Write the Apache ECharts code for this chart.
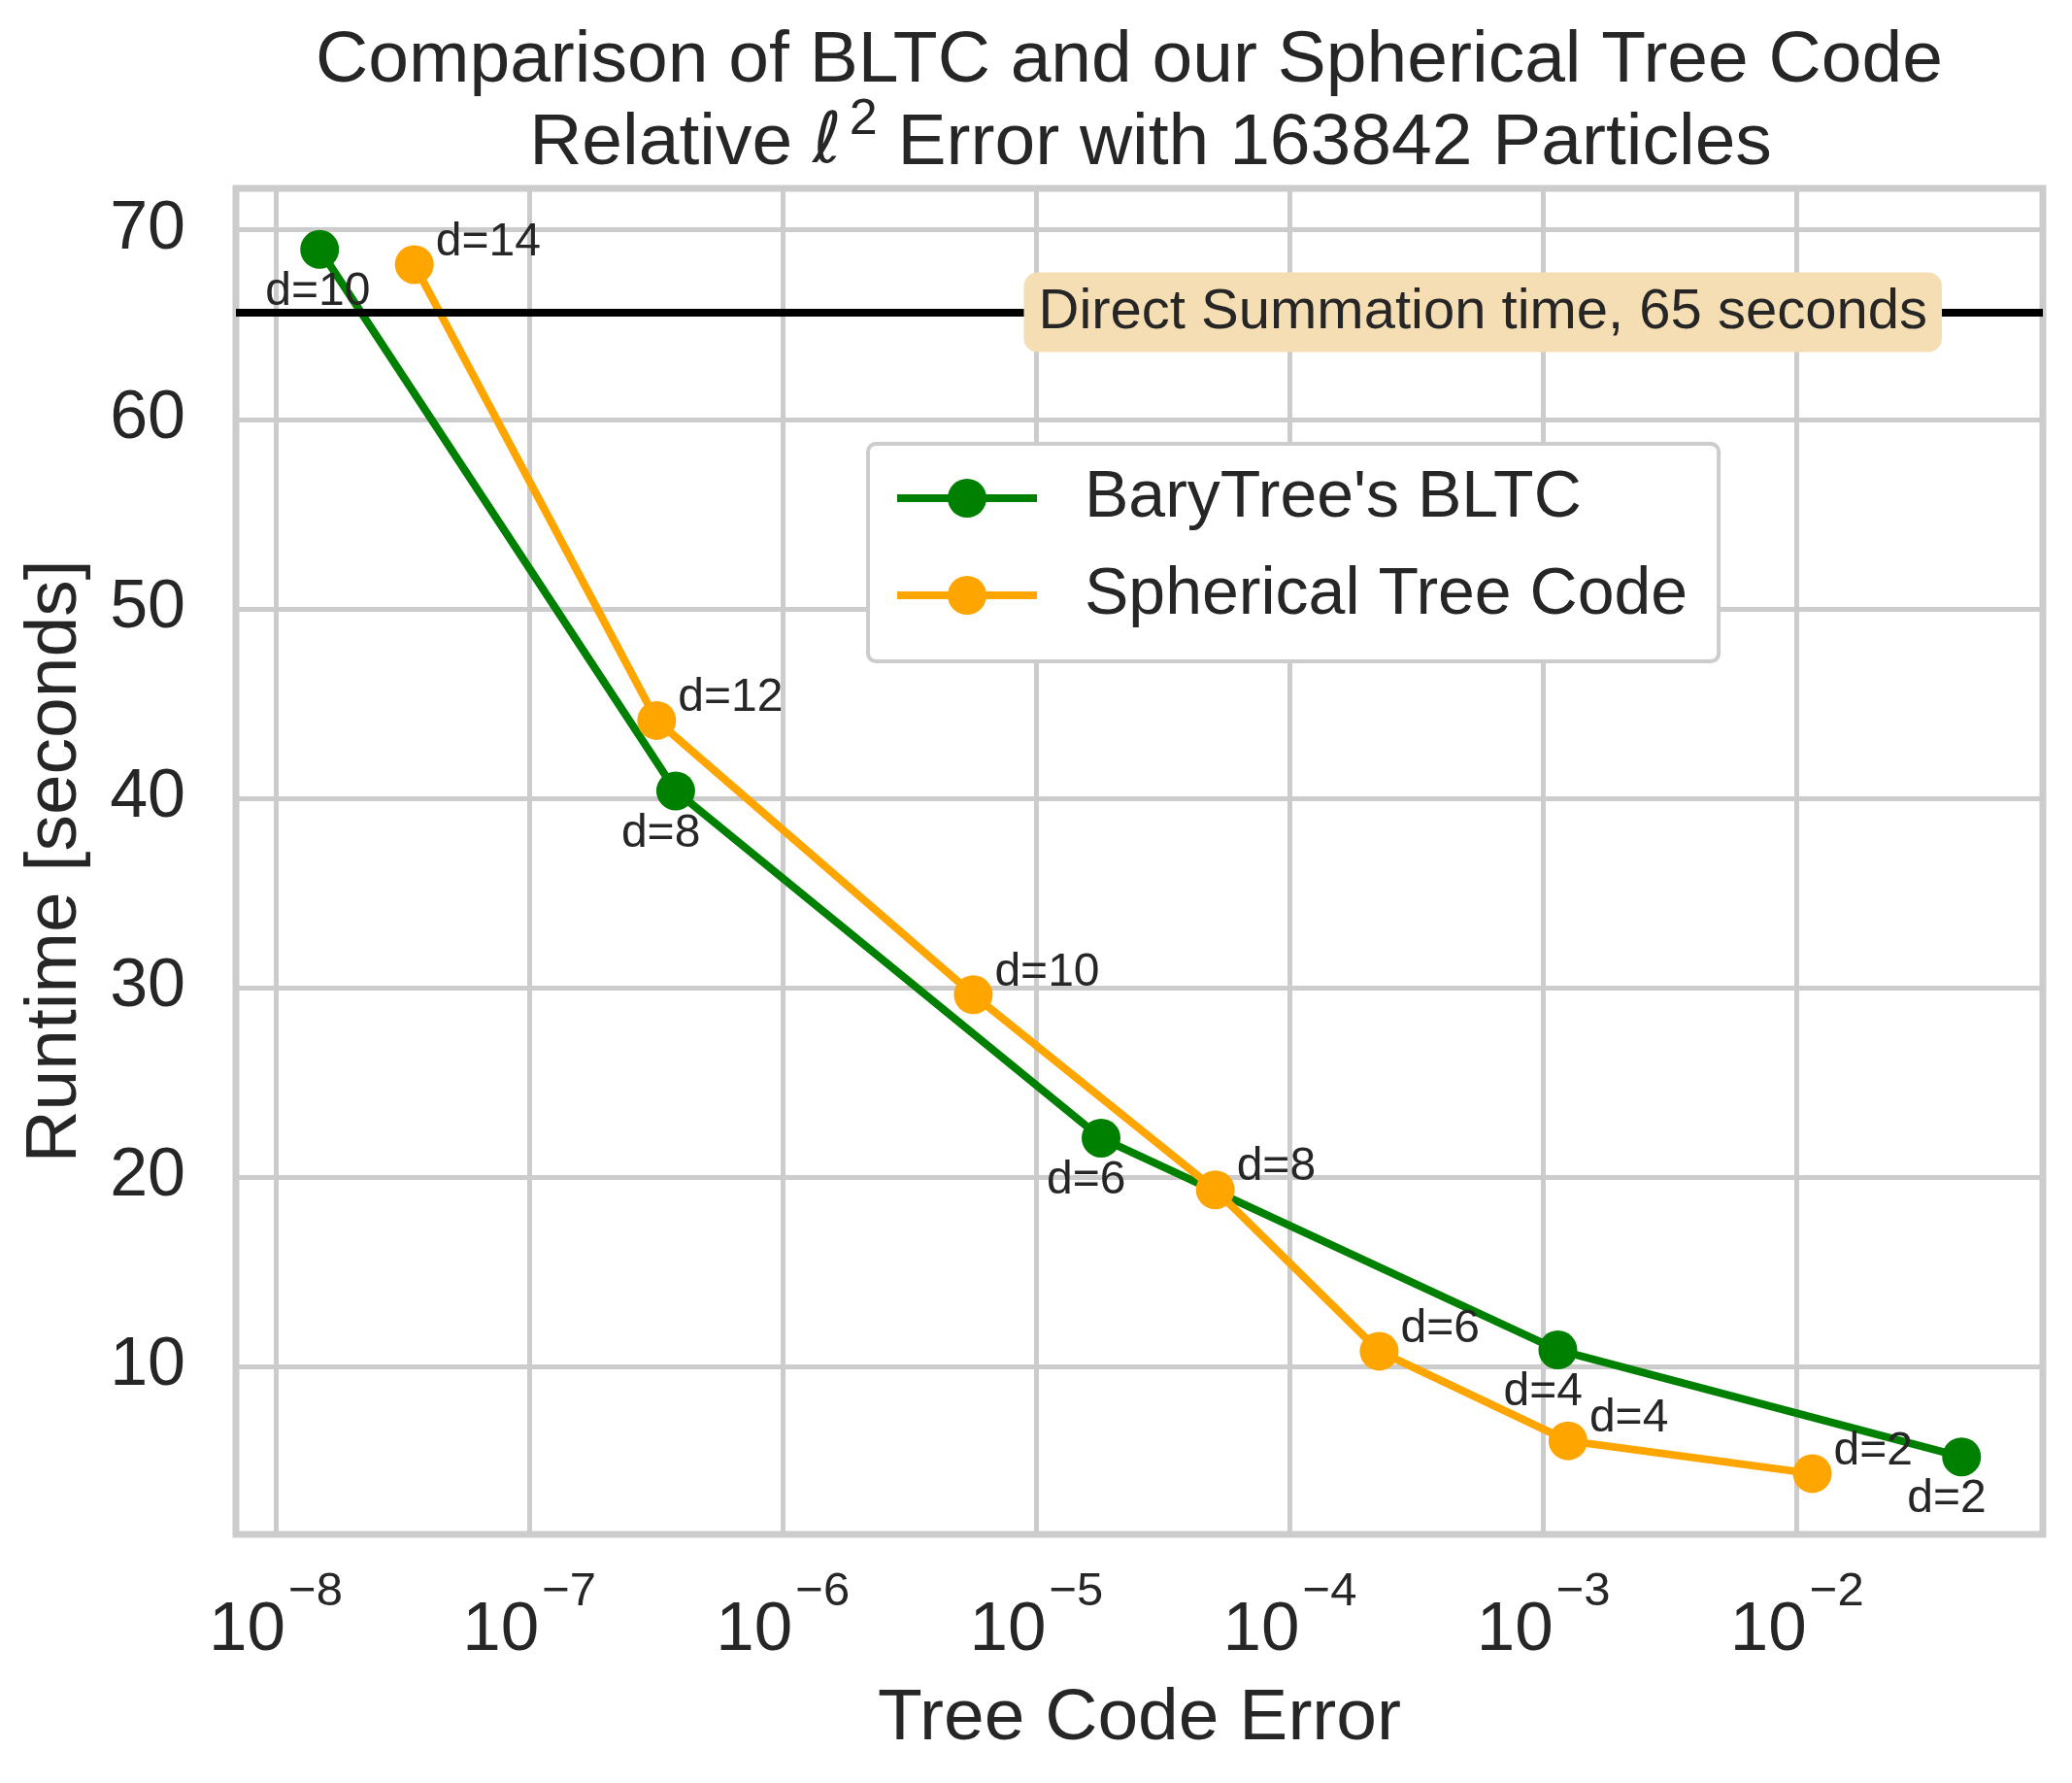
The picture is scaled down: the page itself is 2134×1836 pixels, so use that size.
<!DOCTYPE html>
<html>
<head>
<meta charset="UTF-8">
<script src="https://cdn.jsdelivr.net/npm/echarts@6/dist/echarts.min.js"></script>
<style>
  html, body { margin: 0; padding: 0; background: #fff; }
  #chart { width: 2134px; height: 1836px; }
</style>
</head>
<body>
<div id="chart"></div>
<script type="text/javascript">
// BaryTree's BLTC
var bltcErr  = [1.49e-8, 3.78e-7, 1.80e-5, 1.14e-3, 4.46e-2];
var bltcTime = [68.97, 40.38, 22.05, 10.87, 5.22];
var bltcDeg  = [10, 8, 6, 4, 2];

// Spherical tree code
var stcErr  = [3.52e-8, 3.18e-7, 5.64e-6, 5.08e-5, 2.25e-4, 1.25e-3, 1.15e-2];
var stcTime = [68.17, 44.1, 29.62, 19.32, 10.8, 6.07, 4.34];
var stcDeg  = [14, 12, 10, 8, 6, 4, 2];

var directTime = 65.65;
var xTickExps = [-8, -7, -6, -5, -4, -3, -2];
var yTicks = [10, 20, 30, 40, 50, 60, 70];

var FONT = "'Liberation Sans', Arial, sans-serif";
var TXT = '#262626';

function pairs(xs, ys) {
  var out = [];
  for (var i = 0; i < xs.length; i++) out.push([xs[i], ys[i]]);
  return out;
}

var myChart = echarts.init(document.getElementById('chart'), null, {renderer: 'canvas'});

var option = {
  animation: false,
  backgroundColor: '#ffffff',
  textStyle: {fontFamily: FONT, color: TXT},
  title: {
    left: 1163,
    top: 21,
    textAlign: 'center',
    padding: 0,
    text: '{t|Comparison of BLTC and our Spherical Tree Code}\n' +
          '{r|Relative }{l|\u2113}{s|2}{t| Error with 163842 Particles}',
    textStyle: {
      fontWeight: 'normal',
      rich: {
        t: {fontSize: 75, lineHeight: 85, color: TXT, fontFamily: FONT, fontWeight: 'normal'},
        r: {fontSize: 75, lineHeight: 85, color: TXT, fontFamily: FONT, fontWeight: 'normal', padding: [0, 0, 0, 44]},
        l: {fontSize: 72, lineHeight: 85, color: TXT, fontFamily: 'DejaVu Sans', fontStyle: 'italic', fontWeight: 'normal'},
        s: {fontSize: 52, lineHeight: 40, color: TXT, fontFamily: FONT, fontWeight: 'normal', padding: [0, 0, 50, 8]}
      }
    }
  },
  legend: {
    orient: 'vertical',
    left: 894,
    top: 457,
    padding: [22, 32, 34, 26],
    itemGap: 32,
    itemWidth: 144,
    itemHeight: 50,
    backgroundColor: '#ffffff',
    borderColor: '#cccccc',
    borderWidth: 4,
    borderRadius: 8,
    lineStyle: {width: 8},
    textStyle: {fontSize: 68, color: TXT, fontFamily: FONT, padding: [0, 0, 0, 44]},
    data: ["BaryTree's BLTC", 'Spherical Tree Code']
  },
  grid: {
    left: 243, right: 30, top: 194, bottom: 256,
    show: true,
    borderColor: '#cccccc',
    borderWidth: 7,
    backgroundColor: 'transparent'
  },
  xAxis: {
    type: 'log',
    logBase: 10,
    min: Math.pow(10, -8.157),
    max: Math.pow(10, -1.030),
    name: 'Tree Code Error',
    nameLocation: 'middle',
    nameGap: 153,
    nameMoveOverlap: false,
    nameTextStyle: {fontSize: 75, color: TXT, fontFamily: FONT},
    axisLine: {show: false},
    axisTick: {show: false},
    splitLine: {show: true, lineStyle: {color: '#cccccc', width: 5}},
    minorSplitLine: {show: false},
    axisLabel: {
      margin: 64,
      showMinLabel: false,
      showMaxLabel: false,
      formatter: function (v) {
        var e = Math.log10(v);
        var r = Math.round(e);
        if (Math.abs(e - r) > 1e-6 || xTickExps.indexOf(r) < 0) return '';
        return '{b|10}{e|\u2212' + (-r) + '}';
      },
      rich: {
        b: {fontSize: 71, lineHeight: 71, color: TXT, fontFamily: FONT, verticalAlign: 'middle'},
        e: {fontSize: 49, lineHeight: 49, color: TXT, fontFamily: FONT, verticalAlign: 'middle', padding: [0, 0, 80, 3]}
      }
    }
  },
  yAxis: {
    type: 'value',
    min: 1.13,
    max: 72.19,
    splitNumber: 7,
    name: 'Runtime [seconds]',
    nameLocation: 'middle',
    nameGap: 148,
    nameMoveOverlap: false,
    nameRotate: 90,
    nameTextStyle: {fontSize: 75, color: TXT, fontFamily: FONT},
    axisLine: {show: false},
    axisTick: {show: false},
    splitLine: {show: true, lineStyle: {color: '#cccccc', width: 5}},
    axisLabel: {
      margin: 52,
      fontSize: 70,
      color: TXT,
      fontFamily: FONT,
      showMinLabel: false,
      showMaxLabel: false,
      formatter: function (v) {
        return yTicks.indexOf(Math.round(v)) >= 0 && Math.abs(v - Math.round(v)) < 1e-6 ? String(v) : '';
      }
    }
  },
  series: [
    {
      name: "BaryTree's BLTC",
      type: 'line',
      data: pairs(bltcErr, bltcTime),
      symbol: 'circle',
      symbolSize: 40,
      showAllSymbol: true,
      color: '#008000',
      lineStyle: {color: '#008000', width: 8},
      itemStyle: {color: '#008000'},
      emphasis: {disabled: true},
      z: 3,
      label: {
        show: true,
        position: 'inside',
        offset: [-56, 44],
        align: 'left',
        verticalAlign: 'middle',
        fontSize: 48,
        color: TXT,
        fontFamily: FONT,
        formatter: function (p) { return 'd=' + bltcDeg[p.dataIndex]; }
      },
      markLine: {
        silent: true,
        symbol: ['none', 'none'],
        label: {show: false},
        lineStyle: {color: '#000000', width: 8, type: 'solid'},
        emphasis: {disabled: true},
        data: [{yAxis: directTime}]
      },
      markPoint: {
        silent: true,
        symbol: 'rect',
        symbolSize: [1, 1],
        itemStyle: {color: 'rgba(0,0,0,0)'},
        label: {
          show: true,
          position: 'inside',
          formatter: 'Direct Summation time, 65 seconds',
          fontSize: 58,
          color: TXT,
          fontFamily: FONT,
          backgroundColor: '#f5deb3',
          borderRadius: 14,
          padding: [12, 15, 12, 15]
        },
        data: [{coord: [5.77e-4, directTime]}]
      }
    },
    {
      name: 'Spherical Tree Code',
      type: 'line',
      data: pairs(stcErr, stcTime),
      symbol: 'circle',
      symbolSize: 40,
      showAllSymbol: true,
      color: '#ffa500',
      lineStyle: {color: '#ffa500', width: 8},
      itemStyle: {color: '#ffa500'},
      emphasis: {disabled: true},
      z: 4,
      label: {
        show: true,
        position: 'inside',
        offset: [22, -23],
        align: 'left',
        verticalAlign: 'middle',
        fontSize: 48,
        color: TXT,
        fontFamily: FONT,
        formatter: function (p) { return 'd=' + stcDeg[p.dataIndex]; }
      }
    }
  ]
};

myChart.setOption(option);
</script>
</body>
</html>
